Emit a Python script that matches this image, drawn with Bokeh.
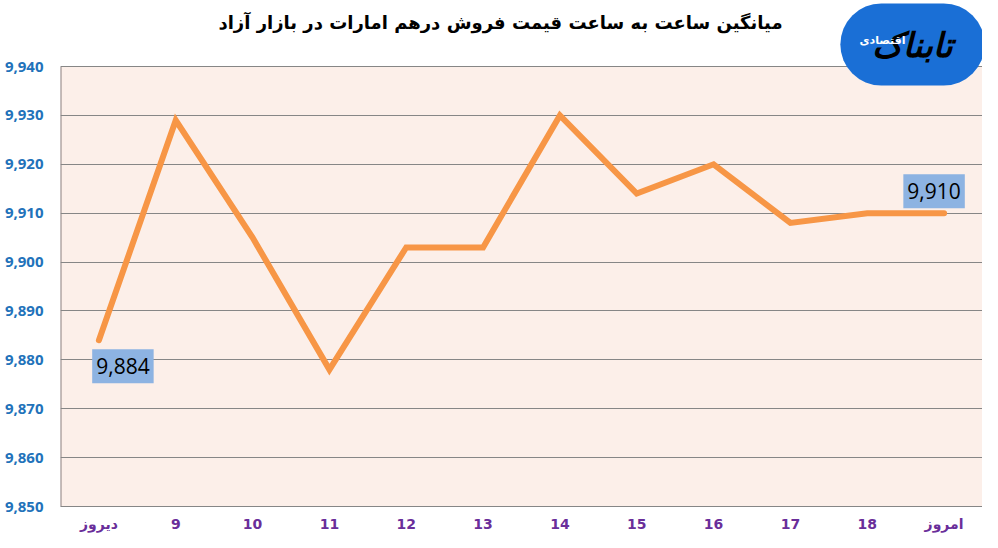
from bokeh.plotting import figure
from bokeh.models import Range1d, FixedTicker, NumeralTickFormatter, Label
from bokeh.embed import file_html
from bokeh.resources import INLINE

title_text = "میانگین ساعت به ساعت قیمت فروش درهم امارات در بازار آزاد"
categories = ["دیروز", "9", "10", "11", "12", "13", "14", "15", "16", "17", "18", "امروز"]
prices = [9884, 9929, 9905, 9878, 9903, 9903, 9930, 9914, 9920, 9908, 9910, 9910]
y_ticks = [9850, 9860, 9870, 9880, 9890, 9900, 9910, 9920, 9930, 9940]

xs = [i + 0.5 for i in range(len(categories))]
y_lo, y_hi = y_ticks[0], y_ticks[-1]
# frame extends above the chart area to hold title and logo
FRAME_H = 506
CHART_H = 440
y_top = y_hi + (y_hi - y_lo) * (FRAME_H - CHART_H) / CHART_H

p = figure(frame_width=922, frame_height=FRAME_H, output_backend="svg", toolbar_location=None,
           x_range=Range1d(0, len(categories)), y_range=Range1d(y_lo, y_top),
           min_border_left=60, min_border_right=0, min_border_top=0, min_border_bottom=0)

p.background_fill_color = "white"
p.border_fill_color = "white"
p.outline_line_color = None

# chart area background
p.quad(left=[0], right=[len(categories)], bottom=[y_lo], top=[y_hi],
       fill_color="#fcefe9", line_color=None, level="image")
# left axis line limited to the chart area
p.segment(x0=[0], y0=[y_lo], x1=[0], y1=[y_hi], line_color="#8a8080", line_width=2, level="underlay")

p.line(xs, prices, line_color="#f79646", line_width=6, line_cap="round", line_join="miter")

# axes
p.yaxis.ticker = FixedTicker(ticks=y_ticks)
p.yaxis.formatter = NumeralTickFormatter(format="0,0")
p.yaxis.major_label_text_color = "#2272ba"
p.yaxis.major_label_text_font = "Open Sans"
p.yaxis.major_label_text_font_style = "bold"
p.yaxis.major_label_text_font_size = "15px"
p.yaxis.major_tick_line_color = None
p.yaxis.major_tick_out = 0
p.yaxis.major_tick_in = 0
p.yaxis.minor_tick_line_color = None
p.yaxis.axis_line_color = None
p.yaxis.major_label_standoff = 17

p.xaxis.ticker = FixedTicker(ticks=xs)
p.xaxis.major_label_overrides = {x: c for x, c in zip(xs, categories)}
p.xaxis.major_label_text_color = "#6a2e9a"
p.xaxis.major_label_text_font = "DejaVu Sans"
p.xaxis.major_label_text_font_style = "bold"
p.xaxis.major_label_text_font_size = "14px"
p.xaxis.major_tick_line_color = None
p.xaxis.major_tick_out = 0
p.xaxis.major_tick_in = 0
p.xaxis.minor_tick_line_color = None
p.xaxis.axis_line_color = "#868686"
p.xaxis.major_label_standoff = 9

p.xgrid.grid_line_color = None
p.ygrid.grid_line_color = "#868686"
p.ygrid.grid_line_width = 1

# data labels
box_pad = dict(left=4, right=4, top=9, bottom=9)
first = Label(x=xs[0], y=prices[0], text=f"{prices[0]:,}", x_offset=24, y_offset=-26,
              text_align="center", text_baseline="middle", text_font="Open Sans",
              text_font_size="21px", text_color="black",
              background_fill_color="#8db3e2", padding=box_pad)
last = Label(x=xs[-1], y=prices[-1], text=f"{prices[-1]:,}", x_offset=-10, y_offset=22,
             text_align="center", text_baseline="middle", text_font="Open Sans",
             text_font_size="21px", text_color="black",
             background_fill_color="#8db3e2", padding=box_pad)
p.add_layout(first)
p.add_layout(last)

# title (screen units relative to the frame)
t = Label(x=440, y=FRAME_H - 22, x_units="screen", y_units="screen", text=title_text,
          text_align="center", text_baseline="middle", text_font="DejaVu Sans",
          text_font_style="bold", text_font_size="18px", text_color="black")
p.add_layout(t)

# logo approximation
logo = Label(x=852, y=FRAME_H - 44, x_units="screen", y_units="screen", text="تابناک",
             text_align="center", text_baseline="middle", text_font="DejaVu Sans",
             text_font_style="bold italic", text_font_size="34px", text_color="black",
             background_fill_color="#1a6fd6",
             padding=dict(left=32, right=32, top=21, bottom=21), border_radius=42)
logo2 = Label(x=822, y=FRAME_H - 40, x_units="screen", y_units="screen", text="اقتصادی",
              text_align="center", text_baseline="middle", text_font="DejaVu Sans",
              text_font_style="bold", text_font_size="11px", text_color="white")
p.add_layout(logo)
p.add_layout(logo2)

open("out.html", "w").write(file_html(p, INLINE))
